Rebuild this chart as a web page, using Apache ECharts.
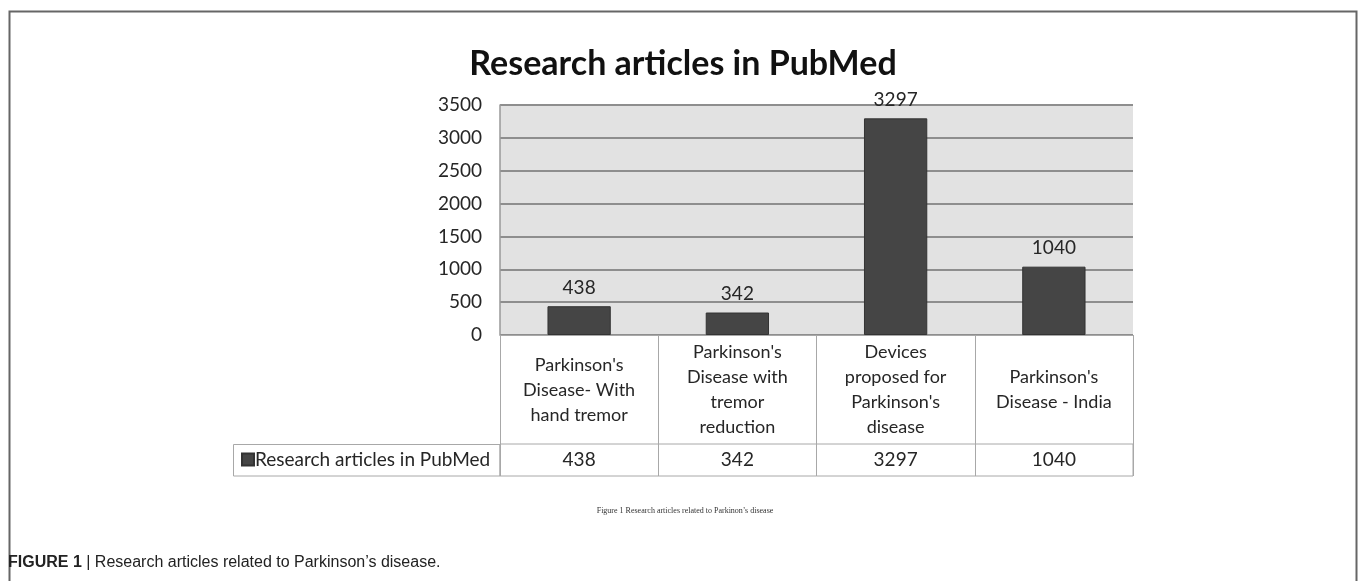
<!DOCTYPE html>
<html>
<head>
<meta charset="utf-8">
<script src="https://cdn.jsdelivr.net/npm/echarts@6/dist/echarts.min.js"></script>
<style>
  html, body { margin: 0; padding: 0; background: #fff; }
  #main { width: 1360px; height: 581px; }
</style>
</head>
<body>
<div id="main"></div>
<script>
var myChart = echarts.init(document.getElementById('main'));

// data
var categories = [
    "Parkinson's\nDisease- With\nhand tremor",
    "Parkinson's\nDisease with\ntremor\nreduction",
    "Devices\nproposed for\nParkinson's\ndisease",
    "Parkinson's\nDisease - India"
];
var articleCounts = [438, 342, 3297, 1040];
var seriesName = 'Research articles in PubMed';
var yMin = 0, yMax = 3500, yStep = 500;

var font = 'Lato, "Open Sans", sans-serif';
var textColor = '#262626';
var cellLine = '#a8a8a8';

option = {
    animation: false,
    backgroundColor: '#fff',
    title: [
        {
            text: 'Research articles in PubMed',
            left: 678,
            top: 42,
            textAlign: 'center',
            textStyle: { fontFamily: font, fontSize: 34, fontWeight: 'bold', color: '#111' }
        },
        {
            text: 'Figure 1 Research articles related to Parkinon\u2019s disease',
            left: 680,
            top: 502,
            textAlign: 'center',
            textStyle: { fontFamily: '"Liberation Serif", serif', fontSize: 8, fontWeight: 'normal', color: '#333' }
        },
        {
            text: '{b|FIGURE 1} | Research articles related to Parkinson\u2019s disease.',
            left: 3,
            top: 550,
            textStyle: {
                fontFamily: '"Liberation Sans", Arial, sans-serif', fontSize: 16, fontWeight: 'normal', color: '#222',
                rich: { b: { fontFamily: '"Liberation Sans", Arial, sans-serif', fontSize: 16, fontWeight: 'bold', color: '#222' } }
            }
        }
    ],
    legend: {
        left: 236,
        top: 445,
        icon: 'rect',
        itemWidth: 12,
        itemHeight: 12,
        itemGap: 4,
        textStyle: { fontFamily: font, fontSize: 19, color: textColor, padding: [0, 0, 0, -4] },
        data: [seriesName]
    },
    graphic: [
        {   // outer frame
            type: 'rect', silent: true,
            shape: { x: 9.5, y: 11.5, width: 1347, height: 620 },
            style: { fill: 'none', stroke: '#666', lineWidth: 2 }
        },
        {   // legend cell of the data table
            type: 'rect', silent: true,
            shape: { x: 233.5, y: 444.5, width: 266.5, height: 31.5 },
            style: { fill: 'none', stroke: cellLine, lineWidth: 1 }
        }
    ],
    grid: [
        { left: 500, right: 227, top: 105, height: 230, show: true, backgroundColor: '#e2e2e2', borderWidth: 0 },
        { left: 500, right: 227, top: 444, height: 32, show: true, borderColor: cellLine, borderWidth: 1 }
    ],
    xAxis: [
        {
            type: 'category',
            gridIndex: 0,
            data: categories,
            axisLine: { show: true, lineStyle: { color: cellLine, width: 1 } },
            axisTick: { show: true, interval: 0, length: 109, lineStyle: { color: cellLine, width: 1 } },
            axisLabel: {
                interval: 0, margin: 55, verticalAlign: 'middle',
                fontFamily: font, fontSize: 18, lineHeight: 25, color: textColor, align: 'center'
            },
            splitLine: { show: false }
        },
        {
            type: 'category',
            gridIndex: 1,
            data: articleCounts.map(String),
            axisLine: { show: false },
            axisTick: { show: false },
            splitLine: { show: true, interval: 0, lineStyle: { color: cellLine, width: 1 } },
            axisLabel: {
                interval: 0, inside: true, margin: 16, verticalAlign: 'middle',
                fontFamily: font, fontSize: 19, color: textColor
            }
        }
    ],
    yAxis: [
        {
            type: 'value',
            gridIndex: 0,
            min: yMin, max: yMax, interval: yStep,
            axisLine: { show: true, lineStyle: { color: '#999', width: 1.5 } },
            axisTick: { show: false },
            axisLabel: {
                margin: 18, fontFamily: font, fontSize: 19, color: textColor,
                formatter: function (v) { return String(v); }
            },
            splitLine: { show: true, lineStyle: { color: '#8e8e8e', width: 2 } }
        },
        { type: 'value', gridIndex: 1, show: false }
    ],
    series: [
        {
            name: seriesName,
            type: 'bar',
            xAxisIndex: 0,
            yAxisIndex: 0,
            barWidth: '40%',
            data: articleCounts,
            itemStyle: { color: '#454545', borderColor: '#333', borderWidth: 1 },
            label: {
                show: true, position: 'top', distance: 9,
                fontFamily: font, fontSize: 19, color: textColor
            }
        }
    ]
};
myChart.setOption(option);
</script>
</body>
</html>
